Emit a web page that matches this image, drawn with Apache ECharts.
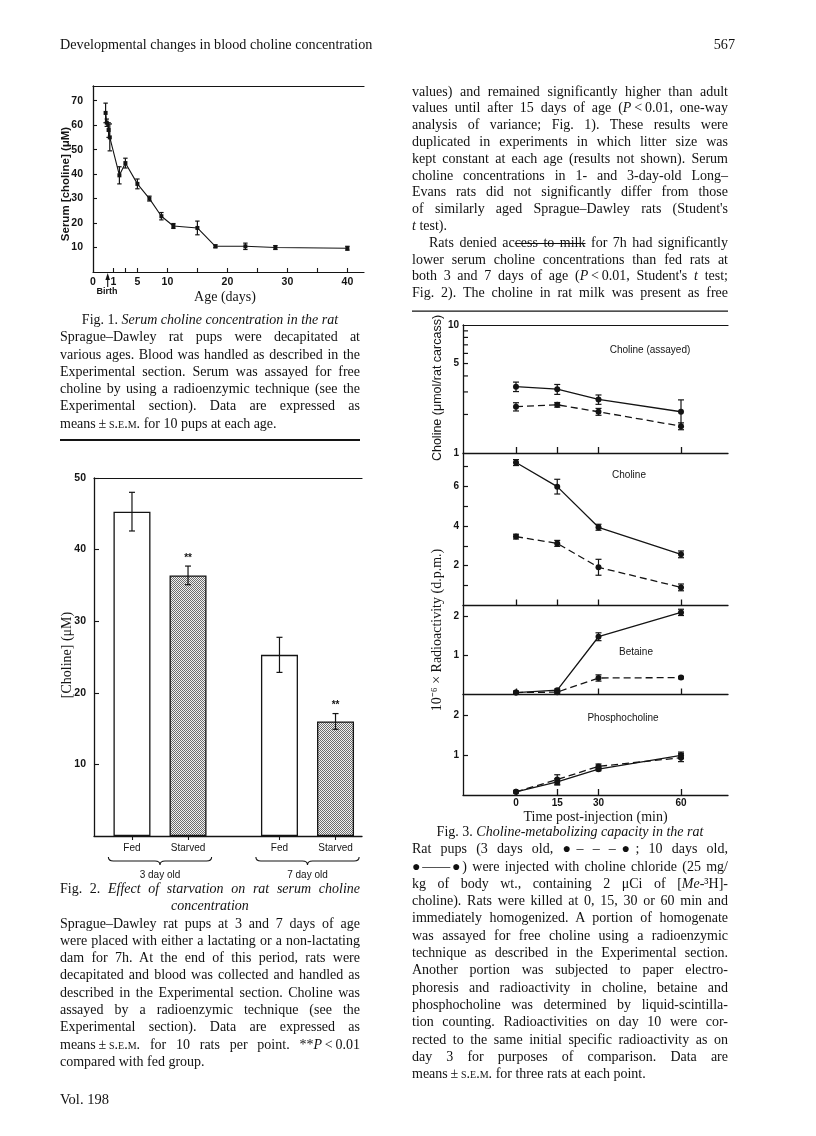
<!DOCTYPE html>
<html>
<head>
<meta charset="utf-8">
<script src="https://cdn.jsdelivr.net/npm/echarts@6/dist/echarts.min.js"></script>
<style>
  html, body { margin: 0; padding: 0; background: #fff; }
  #page { position: relative; width: 816px; height: 1136px; overflow: hidden; }
  #chart { position: absolute; left: 0; top: 0; width: 816px; height: 1136px; }
  .txt { position: absolute; font-family: "Liberation Serif", "Times New Roman", serif; font-size: 14px; line-height: 17.3px; color: #111; }
  .txt div { box-sizing: border-box; white-space: nowrap; text-align: justify; text-align-last: justify; }
  .txt div.last { text-align-last: left; }
  .txt div.center { text-align: center; text-align-last: center; }
  .sc { font-variant: small-caps; }
  s { text-decoration-thickness: 1px; }
</style>
</head>
<body>
<div id="page">
  <div id="chart"></div>

  <div class="txt" style="left:60px; top:36px; font-size:14.2px;">Developmental changes in blood choline concentration</div>
  <div class="txt" style="left:685px; top:36px; width:50px; font-size:14.2px;"><div class="last" style="text-align:right; text-align-last:right;">567</div></div>

  <!-- right column body -->
  <div class="txt" style="left:412px; top:83.6px; width:316px; line-height:16.8px;">
    <div>values) and remained significantly higher than adult</div>
    <div>values until after 15 days of age (<i>P</i>&thinsp;&lt;&thinsp;0.01, one-way</div>
    <div>analysis of variance; Fig. 1). These results were</div>
    <div>duplicated in experiments in which litter size was</div>
    <div>kept constant at each age (results not shown). Serum</div>
    <div>choline concentrations in 1- and 3-day-old Long–</div>
    <div>Evans rats did not significantly differ from those</div>
    <div>of similarly aged Sprague–Dawley rats (Student's</div>
    <div class="last"><i>t</i> test).</div>
    <div style="padding-left:17px;">Rats denied ac<s>cess to milk</s> for 7h had significantly</div>
    <div>lower serum choline concentrations than fed rats at</div>
    <div>both 3 and 7 days of age (<i>P</i>&thinsp;&lt;&thinsp;0.01, Student's <i>t</i> test;</div>
    <div>Fig. 2). The choline in rat milk was present as free</div>
  </div>

  <!-- Fig. 1 legend -->
  <div class="txt" style="left:60px; top:311px; width:300px;">
    <div class="center">Fig. 1. <i>Serum choline concentration in the rat</i></div>
    <div>Sprague–Dawley rat pups were decapitated at</div>
    <div>various ages. Blood was handled as described in the</div>
    <div>Experimental section. Serum was assayed for free</div>
    <div>choline by using a radioenzymic technique (see the</div>
    <div>Experimental section). Data are expressed as</div>
    <div class="last">means&thinsp;±&thinsp;<span class="sc">s.e.m.</span> for 10 pups at each age.</div>
  </div>

  <!-- Fig. 2 legend -->
  <div class="txt" style="left:60px; top:880px; width:300px;">
    <div>Fig. 2. <i>Effect of starvation on rat serum choline</i></div>
    <div class="center"><i>concentration</i></div>
    <div>Sprague–Dawley rat pups at 3 and 7 days of age</div>
    <div>were placed with either a lactating or a non-lactating</div>
    <div>dam for 7h. At the end of this period, rats were</div>
    <div>decapitated and blood was collected and handled as</div>
    <div>described in the Experimental section. Choline was</div>
    <div>assayed by a radioenzymic technique (see the</div>
    <div>Experimental section). Data are expressed as</div>
    <div>means&thinsp;±&thinsp;<span class="sc">s.e.m.</span> for 10 rats per point. **<i>P</i>&thinsp;&lt;&thinsp;0.01</div>
    <div class="last">compared with fed group.</div>
  </div>

  <!-- Fig. 3 legend -->
  <div class="txt" style="left:412px; top:823px; width:316px;">
    <div class="center">Fig. 3. <i>Choline-metabolizing capacity in the rat</i></div>
    <div>Rat pups (3 days old, ●– – –●; 10 days old,</div>
    <div>●——●) were injected with choline chloride (25 mg/</div>
    <div>kg of body wt., containing 2 μCi of [<i>Me</i>-³H]-</div>
    <div>choline). Rats were killed at 0, 15, 30 or 60 min and</div>
    <div>immediately homogenized. A portion of homogenate</div>
    <div>was assayed for free choline using a radioenzymic</div>
    <div>technique as described in the Experimental section.</div>
    <div>Another portion was subjected to paper electro-</div>
    <div>phoresis and radioactivity in choline, betaine and</div>
    <div>phosphocholine was determined by liquid-scintilla-</div>
    <div>tion counting. Radioactivities on day 10 were cor-</div>
    <div>rected to the same initial specific radioactivity as on</div>
    <div>day 3 for purposes of comparison. Data are</div>
    <div class="last">means&thinsp;±&thinsp;<span class="sc">s.e.m.</span> for three rats at each point.</div>
  </div>

  <div class="txt" style="left:60px; top:1091px; font-size:14.5px;">Vol. 198</div>
</div>

<script>
// ---- Fig. 1: serum choline vs age ----
const ageDays = [-0.3, -0.1, 0.2, 0.4, 2, 3, 5, 7, 9, 11, 15, 18, 23, 28, 40];
const serumCholine = [65, 61, 58, 55, 39.5, 44.5, 36, 30, 22.8, 18.8, 18, 10.5, 10.5, 10, 9.7];
const serumSem = [4, 1.5, 3, 5.5, 3.5, 2, 2, 1, 1.5, 1, 2.8, 0.6, 1.3, 0.8, 0.8];
const ageTicks = [1, 3, 5, 10, 15, 20, 25, 30, 35, 40];
const ageLabels = [1, 5, 10, 20, 30, 40];
const serumTicks = [10, 20, 30, 40, 50, 60, 70];

// ---- Fig. 2: fed vs starved ----
const ageGroups = ['3 day old', '7 day old'];
const diets = ['Fed', 'Starved'];
const fedMeans = [45.3, 25.3];
const fedSem = [2.7, 2.45];
const starvedMeans = [36.4, 16.0];
const starvedSem = [1.3, 1.1];
const starvedSignif = ['**', '**'];
const bloodTicks = [10, 20, 30, 40, 50];

// ---- Fig. 3: radioactivity after injection ----
const minutes = [0, 15, 30, 60];
const panelNames = ['Choline (assayed)', 'Choline', 'Betaine', 'Phosphocholine'];
const assayed3 = [2.3, 2.38, 2.1, 1.62];
const assayed3Sem = [0.17, 0.1, 0.13, 0.1];
const assayed10 = [3.3, 3.15, 2.62, 2.1];
const assayed10Sem = [0.28, 0.28, 0.22, 0.5];
const choline3 = [3.46, 3.12, 1.92, 0.91];
const choline3Sem = [0.12, 0.15, 0.4, 0.17];
const choline10 = [7.18, 5.97, 3.93, 2.57];
const choline10Sem = [0.15, 0.37, 0.15, 0.17];
const betaine3 = [0.05, 0.06, 0.42, 0.43];
const betaine3Sem = [0.03, 0.03, 0.08, 0.03];
const betaine10 = [0.05, 0.11, 1.47, 2.09];
const betaine10Sem = [0.03, 0.03, 0.1, 0.08];
const phospho3 = [0.08, 0.39, 0.72, 0.94];
const phospho3Sem = [0.02, 0.12, 0.06, 0.1];
const phospho10 = [0.08, 0.33, 0.65, 1.0];
const phospho10Sem = [0.02, 0.08, 0.04, 0.08];
const assayedTicks = [2, 3, 4, 5, 6, 7, 8, 9];
const assayedLabels = [1, 5, 10];
const cholineTicks = [1, 2, 3, 4, 5, 6, 7];
const cholineLabels = [2, 4, 6];
const smallTicks = [1, 2];

const INK = '#141414';
const SANS = '"Liberation Sans", Arial, sans-serif';
const SERIF = '"Liberation Serif", "Times New Roman", serif';
const LABEL = { color: INK, fontFamily: SANS, fontSize: 10.5, fontWeight: 'bold' };

// squeeze any justified line that would overflow its column
document.querySelectorAll('.txt div').forEach(el => {
  let ls = 0;
  while (el.scrollWidth > el.clientWidth + 0.5 && ls > -1.2) {
    ls -= 0.05;
    el.style.letterSpacing = ls + 'px';
  }
});

const chart = echarts.init(document.getElementById('chart'));

// stippled fill for the starved bars
const dots = document.createElement('canvas');
dots.width = 2; dots.height = 2;
const g2 = dots.getContext('2d');
g2.fillStyle = '#f2f2f2'; g2.fillRect(0, 0, 2, 2);
g2.fillStyle = '#6e6e6e'; g2.fillRect(0, 0, 1, 1); g2.fillRect(1, 1, 1, 1);

function line(x1, y1, x2, y2, w) {
  return { type: 'line', shape: { x1, y1, x2, y2 }, style: { stroke: INK, lineWidth: w || 1.2 } };
}

function errorBars(cap, marks) {
  return function (params, api) {
    const x = api.value(0);
    const top = api.coord([x, api.value(2)]);
    const bot = api.coord([x, api.value(1)]);
    const kids = [
      line(top[0], top[1], bot[0], bot[1]),
      line(top[0] - cap, top[1], top[0] + cap, top[1]),
      line(bot[0] - cap, bot[1], bot[0] + cap, bot[1])
    ];
    if (marks && marks[params.dataIndex]) {
      kids.push({ type: 'text', x: top[0], y: top[1] - 8,
        style: { text: marks[params.dataIndex], font: 'bold 10px ' + SANS, fill: INK,
          align: 'center', verticalAlign: 'middle', textAlign: 'center', textVerticalAlign: 'middle' } });
    }
    return { type: 'group', children: kids };
  };
}

function errData(xs, means, sems) {
  return xs.map((x, i) => [x, means[i] - sems[i], means[i] + sems[i]]);
}

function frameLine(gridIndex, min, max) {
  return { gridIndex, type: 'value', position: 'top', min, max,
    axisLine: { show: true, onZero: false, lineStyle: { color: INK, width: 1.2 } },
    axisTick: { show: false }, axisLabel: { show: false }, splitLine: { show: false } };
}

// ---- layout constants (pixels / axis ranges) ----
const F1 = { left: 93, top: 86, width: 271, height: 186, xmin: -2.4, xmax: 42.77, ymax: 76 };
const F2 = { left: 94, top: 478, width: 268, height: 358, xmin: -0.4475, xmax: 1.3695, spread: 0.19 };
const F3 = { left: 463, width: 265, xmin: -19.27, xmax: 77.09 };
const F3panels = [
  { top: 325, height: 128 },
  { top: 453, height: 152.5, max: 7.66 },
  { top: 605.5, height: 89, max: 2.265 },
  { top: 694.5, height: 100.5, max: 2.53 }
];

// Fig. 2 bar positions (group centre +/- spread)
const bars = [];
ageGroups.forEach((grp, gi) => {
  diets.forEach((d, di) => {
    const starved = di === 1;
    bars.push({
      pos: gi + (starved ? F2.spread : -F2.spread),
      name: d,
      mean: starved ? starvedMeans[gi] : fedMeans[gi],
      sem: starved ? starvedSem[gi] : fedSem[gi],
      mark: starved ? starvedSignif[gi] : '',
      starved
    });
  });
});

const panelSeries = [
  { dashed: assayed3, dashedSem: assayed3Sem, solid: assayed10, solidSem: assayed10Sem },
  { dashed: choline3, dashedSem: choline3Sem, solid: choline10, solidSem: choline10Sem },
  { dashed: betaine3, dashedSem: betaine3Sem, solid: betaine10, solidSem: betaine10Sem },
  { dashed: phospho3, dashedSem: phospho3Sem, solid: phospho10, solidSem: phospho10Sem }
];
const panelYTicks = [null, { ticks: cholineTicks, labels: cholineLabels }, { ticks: smallTicks, labels: smallTicks }, { ticks: smallTicks, labels: smallTicks }];

const grid = [
  { left: F1.left, top: F1.top, width: F1.width, height: F1.height },
  { left: F2.left, top: F2.top, width: F2.width, height: F2.height }
].concat(F3panels.map(p => ({ left: F3.left, top: p.top, width: F3.width, height: p.height })));

const xAxis = [
  { gridIndex: 0, type: 'value', min: F1.xmin, max: F1.xmax,
    axisLine: { onZero: false, lineStyle: { color: INK, width: 1.2 } },
    axisTick: { inside: true, length: 4, customValues: ageTicks, lineStyle: { color: INK, width: 1.1 } },
    axisLabel: Object.assign({ margin: 5, customValues: [F1.xmin].concat(ageLabels),
      formatter: v => (v < 0 ? '0' : String(v)) }, LABEL),
    splitLine: { show: false } },
  frameLine(0, F1.xmin, F1.xmax),
  { gridIndex: 1, type: 'value', min: F2.xmin, max: F2.xmax,
    axisLine: { onZero: false, lineStyle: { color: INK, width: 1.3 } },
    axisTick: { inside: false, length: 4, customValues: bars.map(b => b.pos), lineStyle: { color: INK, width: 1.1 } },
    axisLabel: Object.assign({ margin: 7, customValues: bars.map(b => b.pos),
      formatter: v => { const b = bars.find(b => Math.abs(b.pos - v) < 1e-6); return b ? b.name : ''; } },
      LABEL, { fontWeight: 'normal', fontSize: 10 }),
    splitLine: { show: false } },
  frameLine(1, F2.xmin, F2.xmax)
];

F3panels.forEach((p, i) => {
  const bottom = i === F3panels.length - 1;
  xAxis.push({ gridIndex: 2 + i, type: 'value', min: F3.xmin, max: F3.xmax,
    axisLine: { onZero: false, lineStyle: { color: INK, width: 1.3 } },
    axisTick: { inside: true, length: 6, customValues: minutes, lineStyle: { color: INK, width: 1.3 } },
    axisLabel: bottom ? Object.assign({ margin: 3, customValues: minutes }, LABEL, { fontSize: 10 }) : { show: false },
    splitLine: { show: false },
    name: bottom ? 'Time post-injection (min)' : '', nameLocation: 'middle', nameGap: 15,
    nameTextStyle: { fontFamily: SERIF, fontSize: 14, color: INK } });
  if (i === 0) xAxis.push(frameLine(2, F3.xmin, F3.xmax));
});
// x axis index of each panel's bottom axis
const panelX = [4, 6, 7, 8];

const yLine = { onZero: false, lineStyle: { color: INK, width: 1.3 } };
const yAxis = [
  { gridIndex: 0, type: 'value', min: 0, max: F1.ymax, axisLine: yLine,
    axisTick: { inside: true, length: 4, customValues: serumTicks, lineStyle: { color: INK, width: 1.1 } },
    axisLabel: Object.assign({ margin: 10, customValues: serumTicks }, LABEL),
    splitLine: { show: false } },
  { gridIndex: 1, type: 'value', min: 0, max: 50, axisLine: yLine,
    axisTick: { inside: true, length: 5, customValues: bloodTicks, lineStyle: { color: INK, width: 1.1 } },
    axisLabel: Object.assign({ margin: 8, customValues: bloodTicks }, LABEL),
    splitLine: { show: false } },
  { gridIndex: 2, type: 'log', logBase: 10, min: 1, max: 10, axisLine: yLine,
    axisTick: { show: false }, axisLabel: { show: false }, splitLine: { show: false } }
];
for (let i = 1; i < 4; i++) {
  yAxis.push({ gridIndex: 2 + i, type: 'value', min: 0, max: F3panels[i].max, axisLine: yLine,
    axisTick: { inside: true, length: 5, customValues: panelYTicks[i].ticks, lineStyle: { color: INK, width: 1.2 } },
    axisLabel: Object.assign({ margin: 4, customValues: panelYTicks[i].labels }, LABEL, { fontSize: 10 }),
    splitLine: { show: false } });
}

const series = [
  // Fig. 1
  { type: 'line', xAxisIndex: 0, yAxisIndex: 0, data: ageDays.map((d, i) => [d, serumCholine[i]]),
    symbol: 'rect', symbolSize: 4, itemStyle: { color: INK },
    lineStyle: { color: INK, width: 1.1 }, z: 3 },
  { type: 'custom', xAxisIndex: 0, yAxisIndex: 0, data: errData(ageDays, serumCholine, serumSem),
    renderItem: errorBars(2.2), z: 4 },
  // Fig. 2
  { type: 'bar', xAxisIndex: 2, yAxisIndex: 1, barWidth: 37,
    data: bars.map(b => ({ value: [b.pos, b.mean],
      itemStyle: { color: b.starved ? { image: dots, repeat: 'repeat' } : '#fff', borderColor: INK, borderWidth: 1.3 } })) },
  { type: 'custom', xAxisIndex: 2, yAxisIndex: 1, z: 4,
    data: errData(bars.map(b => b.pos), bars.map(b => b.mean), bars.map(b => b.sem)),
    renderItem: errorBars(3, bars.map(b => b.mark)) },
  // Fig. 2 group braces
  { type: 'custom', xAxisIndex: 2, yAxisIndex: 1, data: ageGroups.map((grp, i) => [i]),
    renderItem: (params, api) => {
      const c = api.value(0);
      const l = api.coord([c - 0.35, 0]);
      const r = api.coord([c + 0.35, 0]);
      const m = api.coord([c, 0]);
      const y0 = l[1];
      const d = `M${l[0]},${y0 + 21} Q${l[0]},${y0 + 25} ${l[0] + 5},${y0 + 25} L${m[0] - 5},${y0 + 25} ` +
        `Q${m[0]},${y0 + 25} ${m[0]},${y0 + 29} Q${m[0]},${y0 + 25} ${m[0] + 5},${y0 + 25} ` +
        `L${r[0] - 5},${y0 + 25} Q${r[0]},${y0 + 25} ${r[0]},${y0 + 21}`;
      return { type: 'group', children: [
        { type: 'path', shape: { pathData: d }, style: { stroke: INK, fill: null, lineWidth: 1.1 } },
        { type: 'text', x: m[0], y: y0 + 39, style: { text: ageGroups[params.dataIndex], font: '10px ' + SANS, fill: INK,
          align: 'center', verticalAlign: 'middle', textAlign: 'center', textVerticalAlign: 'middle' } }
      ] };
    } },
  // Fig. 3 log-axis ticks and labels for the assayed panel
  { type: 'custom', xAxisIndex: 4, yAxisIndex: 2,
    data: assayedTicks.concat(assayedLabels).map(v => [v]),
    renderItem: (params, api) => {
      const v = api.value(0);
      const p = api.coord([F3.xmin, v]);
      if (params.dataIndex >= assayedTicks.length) {
        return { type: 'text', x: p[0] - 4, y: p[1], style: { text: String(v), font: 'bold 10px ' + SANS, fill: INK,
          align: 'right', verticalAlign: 'middle', textAlign: 'right', textVerticalAlign: 'middle' } };
      }
      return line(p[0], p[1], p[0] + 5, p[1], 1.2);
    } }
];

panelSeries.forEach((ps, i) => {
  const xi = panelX[i], yi = 2 + i;
  series.push(
    { type: 'line', xAxisIndex: xi, yAxisIndex: yi, data: minutes.map((t, k) => [t, ps.dashed[k]]),
      symbol: 'circle', symbolSize: 6, itemStyle: { color: INK },
      lineStyle: { color: INK, width: 1.3, type: [7, 4] } },
    { type: 'line', xAxisIndex: xi, yAxisIndex: yi, data: minutes.map((t, k) => [t, ps.solid[k]]),
      symbol: 'circle', symbolSize: 6, itemStyle: { color: INK },
      lineStyle: { color: INK, width: 1.3 } },
    { type: 'custom', xAxisIndex: xi, yAxisIndex: yi, z: 4, data: errData(minutes, ps.dashed, ps.dashedSem),
      renderItem: errorBars(3) },
    { type: 'custom', xAxisIndex: xi, yAxisIndex: yi, z: 4, data: errData(minutes, ps.solid, ps.solidSem),
      renderItem: errorBars(3) }
  );
});

function label(text, x, y, font, rotate) {
  return { type: 'text', x, y, rotation: rotate ? Math.PI / 2 : 0,
    style: { text, font, fill: INK, align: 'center', verticalAlign: 'middle', textAlign: 'center', textVerticalAlign: 'middle' } };
}

const panelLabelPos = [[650, 350], [629, 475], [636, 652], [623, 718]];

const graphic = [
  label('Serum [choline] (μM)', 66, 184, 'bold 11.5px ' + SANS, true),
  label('Age (days)', 225, 297, '14px ' + SERIF),
  label('Birth', 107, 292, 'bold 9px ' + SANS),
  { type: 'polyline', shape: { points: [[107.7, 287], [107.7, 276]] }, style: { stroke: INK, lineWidth: 1.1 } },
  { type: 'polygon', shape: { points: [[105.4, 280], [107.7, 273], [110, 280]] }, style: { fill: INK } },
  label('[Choline] (μM)', 67, 655, '14px ' + SERIF, true),
  label('Choline (μmol/rat carcass)', 438, 388, '12.5px ' + SANS, true),
  label('10⁻⁶ × Radioactivity (d.p.m.)', 437, 630, '14px ' + SERIF, true),
  { type: 'rect', shape: { x: 60, y: 439, width: 300, height: 2 }, style: { fill: INK } },
  { type: 'rect', shape: { x: 412, y: 310.5, width: 316, height: 1.2 }, style: { fill: INK } }
].concat(panelNames.map((n, i) => label(n, panelLabelPos[i][0], panelLabelPos[i][1], '10px ' + SANS)));

chart.setOption({ animation: false, grid, xAxis, yAxis, series, graphic });
</script>
</body>
</html>
